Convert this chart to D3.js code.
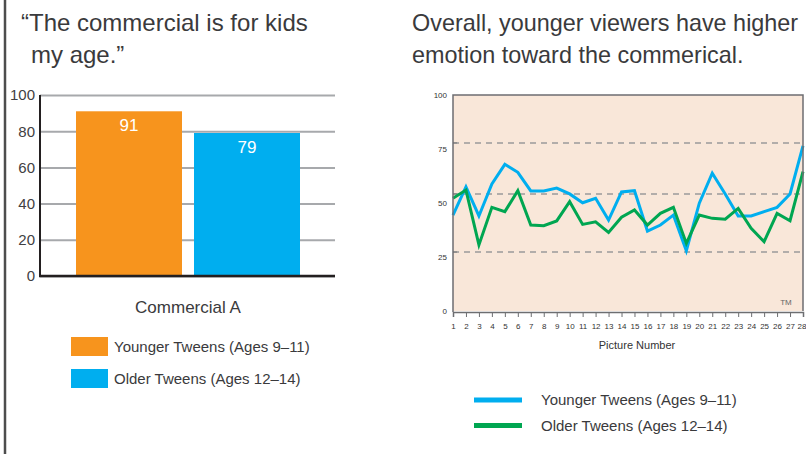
<!DOCTYPE html>
<meta charset="utf-8">
<style>
body { margin: 0; background: #fff; }
svg { display: block; font-family: "Liberation Sans", Arial, sans-serif; }
.title { fill: #3a3a3c; }
.grid line { stroke: #a7a9ac; stroke-width: 2; }
.grid text { font-size: 15px; fill: #414042; }
.small text { font-size: 8px; fill: #333; }
</style>
<svg width="806" height="454"></svg>
<script src="https://d3js.org/d3.v7.min.js"></script>
<script>

// left chart data
var barCats = ["Younger Tweens (Ages 9–11)", "Older Tweens (Ages 12–14)"];
var barValues = [91, 79];
var barColors = ["#f7941d", "#00aeef"];
var barTicks = [0, 20, 40, 60, 80, 100];

// right chart data
var pictures = d3.range(1, 29);
var younger = [44.4, 57.5, 44.0, 58.8, 67.9, 64.2, 55.6, 55.6, 56.9, 54.2, 50.1, 52.2, 42.1, 55.1,
               55.7, 37.0, 39.8, 44.4, 27.9, 49.9, 63.8, 54.2, 44.0, 44.0, 46.0, 48.0, 54.2, 76.4];
var older   = [52.2, 56.0, 30.6, 48.0, 46.0, 55.7, 39.8, 39.5, 41.7, 50.6, 40.1, 41.3, 36.4, 43.4,
               46.8, 39.8, 45.2, 48.0, 31.3, 44.4, 42.9, 42.5, 47.5, 38.3, 32.1, 45.2, 41.8, 64.5];
var lineNames = ["Younger Tweens (Ages 9–11)", "Older Tweens (Ages 12–14)"];
var lineColors = ["#00aeef", "#00a651"];
var lineTicks = [0, 25, 50, 75, 100];
var refLines = [27.3, 54.2, 77.8];

var svg = d3.select("svg");

// left frame line
svg.append("line")
    .attr("x1", 5).attr("x2", 5).attr("y1", 0).attr("y2", 454)
    .attr("stroke", "#4d4d4d").attr("stroke-width", 2.5);

// titles
var t1 = svg.append("text").attr("class", "title").attr("font-size", "24px");
t1.append("tspan").attr("x", 21).attr("y", 31).text("\u201CThe commercial is for kids");
t1.append("tspan").attr("x", 31).attr("y", 63).text("my age.\u201D");

var t2 = svg.append("text").attr("class", "title").attr("font-size", "23.4px");
t2.append("tspan").attr("x", 412).attr("y", 31).text("Overall, younger viewers have higher");
t2.append("tspan").attr("x", 412).attr("y", 63).text("emotion toward the commerical.");

// ---- bar chart ----
var yL = d3.scaleLinear().domain([0, 100]).range([276, 95]);
var xL = d3.scaleBand().domain(barCats).range([76, 300]).paddingInner(0.1017);

svg.append("g")
    .attr("class", "grid")
    .attr("transform", "translate(40,0)")
    .call(d3.axisLeft(yL).tickValues(barTicks).tickSize(-295).tickPadding(5))
    .call(function(g) { g.select(".domain").remove(); });

svg.selectAll(".bar")
  .data(barValues)
  .enter().append("rect")
    .attr("class", "bar")
    .attr("x", function(d, i) { return xL(barCats[i]); })
    .attr("width", xL.bandwidth())
    .attr("y", function(d) { return yL(d); })
    .attr("height", function(d) { return yL(0) - yL(d); })
    .attr("fill", function(d, i) { return barColors[i]; });

svg.selectAll(".barlab")
  .data(barValues)
  .enter().append("text")
    .attr("x", function(d, i) { return xL(barCats[i]) + xL.bandwidth() / 2; })
    .attr("y", function(d) { return yL(d) + 20; })
    .attr("text-anchor", "middle")
    .attr("fill", "#fff")
    .attr("font-size", "17px")
    .text(function(d) { return d; });

// axis lines
svg.append("line")
    .attr("x1", 40).attr("x2", 40).attr("y1", yL(100)).attr("y2", yL(0) + 1)
    .attr("stroke", "#231f20").attr("stroke-width", 2);
svg.append("line")
    .attr("x1", 39).attr("x2", 335).attr("y1", yL(0)).attr("y2", yL(0))
    .attr("stroke", "#231f20").attr("stroke-width", 2.5);

svg.append("text")
    .attr("x", 188).attr("y", 313)
    .attr("text-anchor", "middle")
    .attr("font-size", "17px").attr("fill", "#3a3a3c")
    .text("Commercial A");

var legL = svg.append("g").selectAll("g")
  .data(barCats)
  .enter().append("g")
    .attr("transform", function(d, i) { return "translate(71," + (337 + i * 32) + ")"; });
legL.append("rect")
    .attr("width", 37).attr("height", 19)
    .attr("fill", function(d, i) { return barColors[i]; });
legL.append("text")
    .attr("x", 43).attr("y", 15)
    .attr("font-size", "15px").attr("fill", "#3a3a3c")
    .text(function(d) { return d; });

// ---- line chart ----
var xR = d3.scaleLinear().domain([1, 28]).range([453, 803]);
var yR = d3.scaleLinear().domain([0, 100]).range([311, 95]);

svg.append("rect")
    .attr("x", xR(1)).attr("y", yR(100))
    .attr("width", xR(28) - xR(1)).attr("height", yR(0) - yR(100))
    .attr("fill", "#f9e7d9");

svg.selectAll(".ref")
  .data(refLines)
  .enter().append("line")
    .attr("x1", xR(1)).attr("x2", xR(28))
    .attr("y1", function(d) { return yR(d); })
    .attr("y2", function(d) { return yR(d); })
    .attr("stroke", "#9a9a9a").attr("stroke-width", 1.5)
    .attr("stroke-dasharray", "6,5");

// small marks on the left axis at the reference lines
svg.selectAll(".refTick")
  .data(refLines)
  .enter().append("line")
    .attr("x1", xR(1)).attr("x2", xR(1) + 4)
    .attr("y1", function(d) { return yR(d); })
    .attr("y2", function(d) { return yR(d); })
    .attr("stroke", "#777").attr("stroke-width", 1);

var line = d3.line()
    .x(function(d, i) { return xR(pictures[i]); })
    .y(function(d) { return yR(d); });

[younger, older].forEach(function(series, k) {
    svg.append("path")
        .datum(series)
        .attr("d", line)
        .attr("fill", "none")
        .attr("stroke", lineColors[k])
        .attr("stroke-width", 3)
        .attr("stroke-linejoin", "miter");
});

// frame
svg.append("path")
    .attr("d", "M" + xR(1) + "," + (yR(0) + 1) + "V" + yR(100) + "H" + xR(28) + "V" + yR(0))
    .attr("fill", "none").attr("stroke", "#6d6e71").attr("stroke-width", 1.5);

svg.append("g")
    .attr("class", "small")
    .attr("transform", "translate(0," + (yR(0) + 1) + ")")
    .call(d3.axisBottom(xR).tickValues(pictures).tickFormat(d3.format("d")).tickSize(5).tickPadding(6))
    .call(function(g) {
        g.select(".domain").attr("stroke", "#6d6e71").attr("stroke-width", 1.5);
        g.selectAll(".tick line").attr("stroke", "#6d6e71");
        g.selectAll("text").attr("font-size", "9px");
        // keep the last label inside the page
        g.selectAll("text").filter(function(d) { return d === 28; })
            .attr("text-anchor", "end").attr("dx", 3);
    });

svg.append("g")
    .attr("class", "small")
    .attr("transform", "translate(" + (xR(1) - 6) + ",0)")
    .call(d3.axisLeft(yR).tickValues(lineTicks).tickSize(0).tickPadding(0))
    .call(function(g) { g.select(".domain").remove(); })
    .selectAll("text").attr("font-size", "7px");

svg.append("text")
    .attr("x", 637).attr("y", 349)
    .attr("text-anchor", "middle")
    .attr("font-size", "11px").attr("fill", "#333")
    .text("Picture Number");

svg.append("text")
    .attr("x", 786).attr("y", 305)
    .attr("text-anchor", "middle")
    .attr("font-size", "8px").attr("fill", "#666")
    .text("TM");

var legR = svg.append("g").selectAll("g")
  .data(lineNames)
  .enter().append("g")
    .attr("transform", function(d, i) { return "translate(474," + (400 + i * 25.5) + ")"; });
legR.append("line")
    .attr("x2", 48)
    .attr("stroke", function(d, i) { return lineColors[i]; })
    .attr("stroke-width", 5);
legR.append("text")
    .attr("x", 67).attr("y", 5)
    .attr("font-size", "15px").attr("fill", "#3a3a3c")
    .text(function(d) { return d; });

</script>
